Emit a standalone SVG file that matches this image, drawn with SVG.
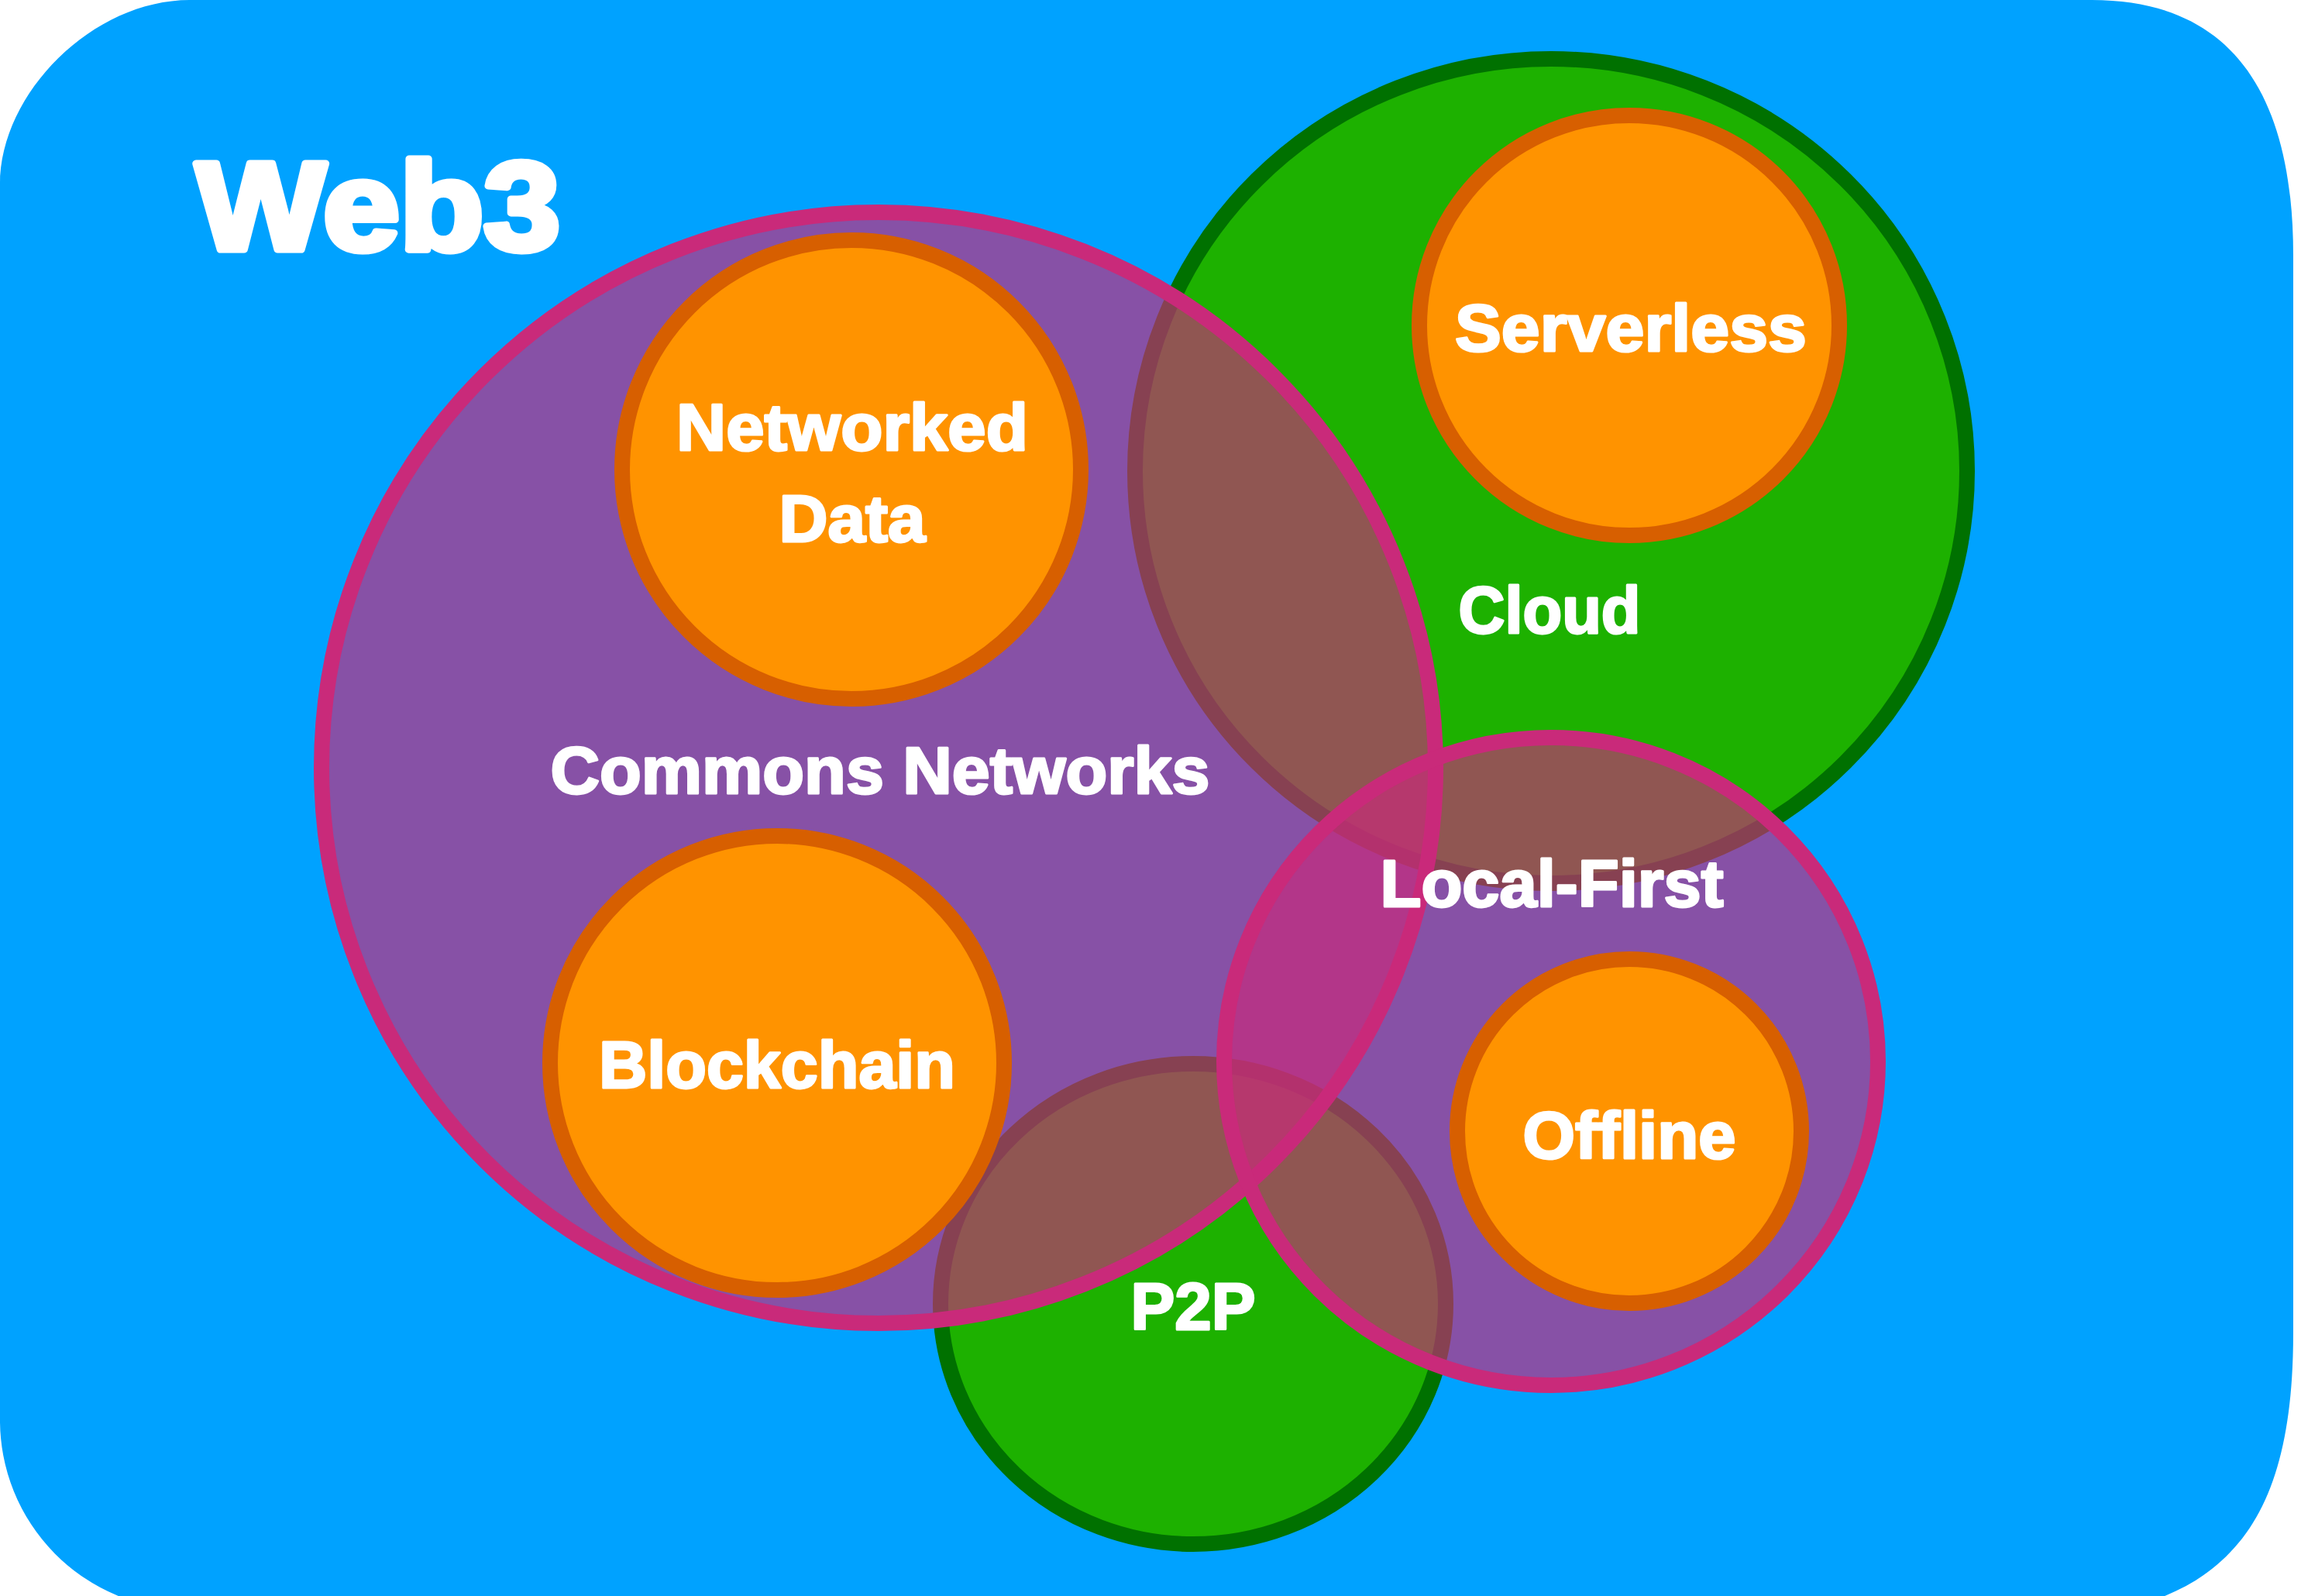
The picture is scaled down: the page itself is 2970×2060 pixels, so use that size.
<svg xmlns="http://www.w3.org/2000/svg" width="2970" height="2060" viewBox="0 0 2970 2060">
  <style>
    .green { fill: #1db100; stroke: #007100; stroke-width: 20; }
    .magenta { fill: #c92a7a; fill-opacity: 0.67; stroke: #c92a7a; stroke-width: 20; }
    .orange { fill: #ff9300; stroke: #d75f00; stroke-width: 20; }
    .lbl { font-family: "Liberation Sans", Arial, sans-serif; font-weight: 700; font-size: 86px; fill: #ffffff; stroke: #ffffff; stroke-width: 3; stroke-linejoin: round; text-anchor: middle; }
    .title { font-family: "Liberation Sans", Arial, sans-serif; font-weight: 700; font-size: 162px; fill: #ffffff; stroke: #ffffff; stroke-width: 9; stroke-linejoin: round; }
  </style>
  <rect width="2970" height="2060" fill="#ffffff"/>
  <path id="background" fill="#00a2ff" d="M 245,0 L 2700,0 C 2880,0 2960,120 2960,330 L 2960,1720 C 2960,2000 2850,2085 2600,2095 L 245,2078 A 245 245 0 0 1 0,1830 L 0,238 C 0,120 120,0 245,0 Z"/>
  <g id="cloud"><ellipse class="green" cx="2002" cy="608" rx="537" ry="532"/></g>
  <g id="p2p"><ellipse class="green" cx="1540" cy="1683" rx="326" ry="310"/></g>
  <g id="commons-networks"><ellipse class="magenta" cx="1134" cy="991" rx="719" ry="717"/></g>
  <g id="local-first"><ellipse class="magenta" cx="2002" cy="1370" rx="422" ry="418"/></g>
  <g id="networked-data"><circle class="orange" cx="1099" cy="606" r="296"/>
    <text class="lbl" x="1100" y="581" textLength="454" lengthAdjust="spacingAndGlyphs">Networked</text>
    <text class="lbl" x="1100" y="699" textLength="189" lengthAdjust="spacingAndGlyphs">Data</text></g>
  <g id="serverless"><circle class="orange" cx="2103" cy="420" r="271"/>
    <text class="lbl" x="2105" y="453" textLength="454" lengthAdjust="spacingAndGlyphs">Serverless</text></g>
  <g id="blockchain"><circle class="orange" cx="1003" cy="1372" r="293"/>
    <text class="lbl" x="1003" y="1404" textLength="460" lengthAdjust="spacingAndGlyphs">Blockchain</text></g>
  <g id="offline"><circle class="orange" cx="2103" cy="1460" r="222"/>
    <text class="lbl" x="2103" y="1495" textLength="275" lengthAdjust="spacingAndGlyphs">Offline</text></g>
  <g id="labels">
    <text class="title" x="253" y="322" textLength="470" lengthAdjust="spacingAndGlyphs">Web3</text>
    <text class="lbl" x="2000" y="817" textLength="235" lengthAdjust="spacingAndGlyphs">Cloud</text>
    <text class="lbl" x="1136" y="1024" textLength="851" lengthAdjust="spacingAndGlyphs">Commons Networks</text>
    <text class="lbl" x="2003" y="1170" textLength="443" lengthAdjust="spacingAndGlyphs">Local-First</text>
    <text class="lbl" x="1540" y="1716" textLength="161" lengthAdjust="spacingAndGlyphs">P2P</text>
  </g>
  <g id="connectors"/>
</svg>
